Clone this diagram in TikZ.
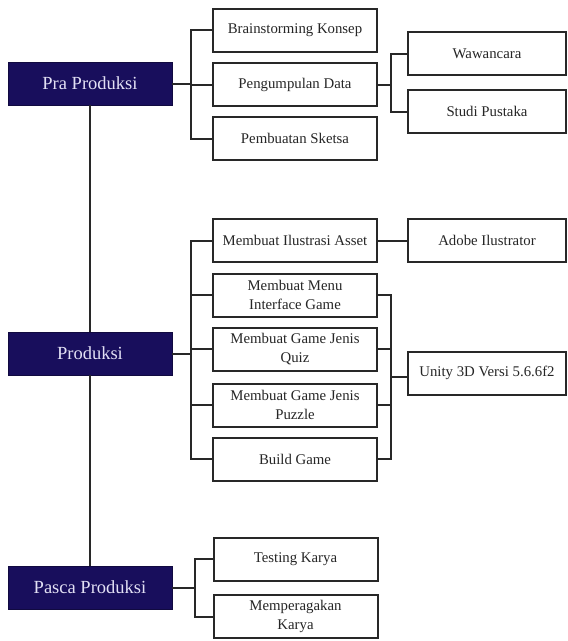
\documentclass[tikz,border=0pt]{standalone}
\usepackage{fontspec}
\setmainfont{Liberation Serif}
\usetikzlibrary{calc}
\definecolor{navy}{RGB}{24,14,92}
\definecolor{edge}{RGB}{40,40,40}
\definecolor{pale}{RGB}{226,224,244}
\begin{document}
\begin{tikzpicture}[x=1pt,y=-1pt,
  phase/.style={fill=navy,draw=navy!70!black,line width=0.6pt,text=pale,
    minimum width=164pt,minimum height=43pt,font=\fontsize{18.5}{20}\selectfont,inner sep=0pt},
  task/.style={draw=edge,line width=2pt,fill=white,minimum width=164pt,minimum height=43pt,
    font=\fontsize{14.8}{19}\selectfont,align=center,inner sep=0pt,text=black!85},
  tool/.style={task,minimum width=158pt},
  link/.style={draw=edge,line width=2pt}]
\useasboundingbox (0,0) rectangle (568,641);

% phases
\node[phase] (pra) at (90,83.5) {Pra Produksi};
\node[phase] (pro) at (90,353.5) {Produksi};
\node[phase] (pas) at (90,587.5) {Pasca Produksi};

% pre-production tasks
\node[task] (brain) at (295,30) {Brainstorming Konsep};
\node[task] (data) at (295,84.5) {Pengumpulan Data};
\node[task] (sketsa) at (295,138.5) {Pembuatan Sketsa};
\node[tool] (wawan) at (487,53.5) {Wawancara};
\node[tool] (studi) at (487,111.5) {Studi Pustaka};

% production tasks
\node[task] (ilus) at (295,240.5) {Membuat Ilustrasi Asset};
\node[task] (menu) at (295,295) {Membuat Menu\\Interface Game};
\node[task] (quiz) at (295,349) {Membuat Game Jenis\\Quiz};
\node[task] (puzzle) at (295,405) {Membuat Game Jenis\\Puzzle};
\node[task] (build) at (295,459) {Build Game};
\node[tool] (adobe) at (487,240.5) {Adobe Ilustrator};
\node[tool] (unity) at (487,373) {Unity 3D Versi 5.6.6f2};

% post-production tasks
\node[task] (test) at (295.5,559) {Testing Karya};
\node[task] (demo) at (295.5,616.5) {Memperagakan\\Karya};

% phase spine
\draw[link] (pra.south) -- (pro.north);
\draw[link] (pro.south) -- (pas.north);

% pre-production brackets
\coordinate (bA) at (190.5,0);
\draw[link] (pra.east) -- (pra.east -| bA);
\draw[link] (brain.west) -- (brain.west -| bA) -- (sketsa.west -| bA) -- (sketsa.west);
\draw[link] (data.west) -- (data.west -| bA);
\coordinate (bB) at (391,0);
\draw[link] (data.east) -- (data.east -| bB);
\draw[link] (wawan.west) -- (wawan.west -| bB) -- (studi.west -| bB) -- (studi.west);

% production brackets
\draw[link] (pro.east) -- (pro.east -| bA);
\draw[link] (ilus.west) -- (ilus.west -| bA) -- (build.west -| bA) -- (build.west);
\draw[link] (menu.west) -- (menu.west -| bA);
\draw[link] (quiz.west) -- (quiz.west -| bA);
\draw[link] (puzzle.west) -- (puzzle.west -| bA);
\draw[link] (ilus.east) -- (adobe.west);
\draw[link] (menu.east) -- (menu.east -| bB) -- (build.east -| bB) -- (build.east);
\draw[link] (quiz.east) -- (quiz.east -| bB);
\draw[link] (puzzle.east) -- (puzzle.east -| bB);
\coordinate (uin) at (391,377);
\draw[link] (uin) -- (uin -| unity.west);

% post-production bracket
\coordinate (bC) at (195,0);
\draw[link] (pas.east) -- (pas.east -| bC);
\draw[link] (test.west) -- (test.west -| bC) -- (demo.west -| bC) -- (demo.west);
\end{tikzpicture}
\end{document}
